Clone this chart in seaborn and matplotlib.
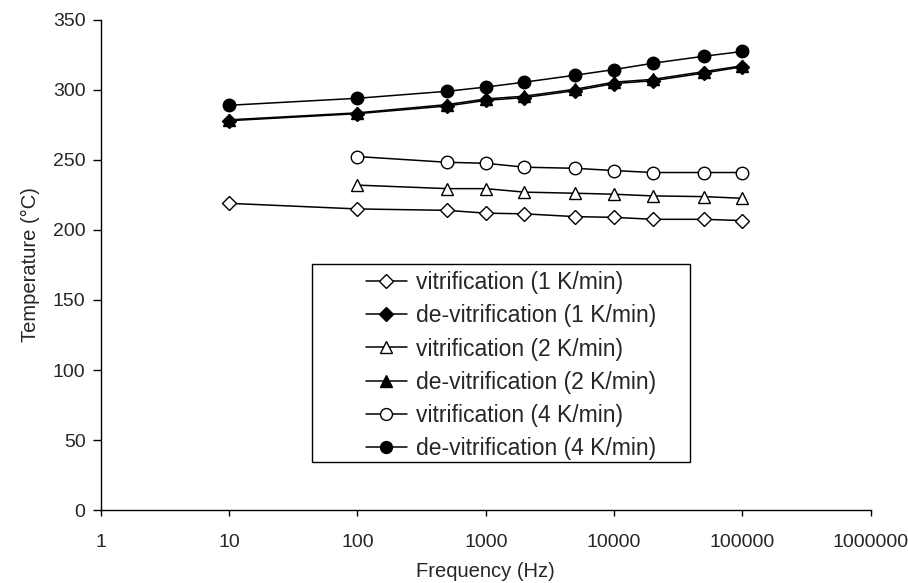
import matplotlib
matplotlib.use("Agg")
import matplotlib.pyplot as plt
import seaborn as sns
import pandas as pd
from matplotlib.ticker import NullLocator
from matplotlib.patches import Rectangle

sns.set_style("ticks")
plt.rcParams["font.family"] = ["Liberation Sans", "DejaVu Sans"]

freq_full = [10, 100, 500, 1000, 2000, 5000, 10000, 20000, 50000, 100000]
freq_short = [100, 500, 1000, 2000, 5000, 10000, 20000, 50000, 100000]

vit_1 = [219, 215, 214, 212, 211.5, 209.5, 209, 207.6, 207.6, 206.7]
devit_1 = [278, 283, 288.5, 292.5, 294.5, 299.5, 304.5, 306.5, 312, 316.5]
vit_2 = [232, 229.5, 229.5, 227, 226.2, 225.5, 224.3, 223.8, 222.6]
devit_2 = [278.6, 283.6, 289.5, 293.5, 295.5, 300.5, 305.5, 307.5, 313, 317.2]
vit_4 = [252.4, 248.3, 247.6, 244.8, 244, 242.4, 241, 241, 241]
devit_4 = [289, 294, 299, 302, 305.5, 310.5, 314.5, 319, 324, 327.4]

x_ticks = [1, 10, 100, 1000, 10000, 100000, 1000000]
x_tick_labels = ["1", "10", "100", "1000", "10000", "100000", "1000000"]
y_ticks = [0, 50, 100, 150, 200, 250, 300, 350]

series = [
    ("vitrification (1 K/min)", freq_full, vit_1, "D", "white", 7),
    ("de-vitrification (1 K/min)", freq_full, devit_1, "D", "black", 7),
    ("vitrification (2 K/min)", freq_short, vit_2, "^", "white", 9),
    ("de-vitrification (2 K/min)", freq_full, devit_2, "^", "black", 9),
    ("vitrification (4 K/min)", freq_short, vit_4, "o", "white", 9),
    ("de-vitrification (4 K/min)", freq_full, devit_4, "o", "black", 9),
]

fig = plt.figure(figsize=(9.08, 5.83), dpi=100)
ax = fig.add_axes([0.111, 0.125, 0.848, 0.841])
ax.set_xscale("log")

for label, xs, ys, mk, fc, ms in series:
    df = pd.DataFrame({"Frequency": xs, "Temperature": ys})
    sns.lineplot(data=df, x="Frequency", y="Temperature", ax=ax, color="black",
                 linewidth=1.1, marker=mk, markersize=ms, markerfacecolor=fc,
                 markeredgecolor="black", markeredgewidth=1.0, label=label)

ax.set_xlim(1, 1000000)
ax.set_ylim(0, 350)
ax.set_xticks(x_ticks)
ax.set_xticklabels(x_tick_labels)
ax.xaxis.set_minor_locator(NullLocator())
ax.set_yticks(y_ticks)
ax.tick_params(axis="both", labelsize=14, width=1, color="black", direction="out")
ax.tick_params(axis="y", length=6, pad=5)
ax.tick_params(axis="x", length=4, pad=13)
for s in ["top", "right"]:
    ax.spines[s].set_visible(False)
for s in ["left", "bottom"]:
    ax.spines[s].set_color("black")
    ax.spines[s].set_linewidth(1)
ax.set_xlabel("Frequency (Hz)", fontsize=14.5, labelpad=8)
ax.set_ylabel("Temperature (°C)", fontsize=14.5, labelpad=9)

# legend frame
ax.add_patch(Rectangle((0.274, 0.098), 0.491, 0.404, transform=ax.transAxes,
                       facecolor="white", edgecolor="black", linewidth=1.0,
                       zorder=4))
leg = ax.legend(loc="upper left", bbox_to_anchor=(0.345, 0.487), fontsize=16.5,
                frameon=False, handlelength=1.75, handletextpad=0.4,
                borderpad=0, labelspacing=0.44, borderaxespad=0,
                markerscale=0.95)
leg.set_zorder(5)

fig.savefig("out.png", dpi=100)
